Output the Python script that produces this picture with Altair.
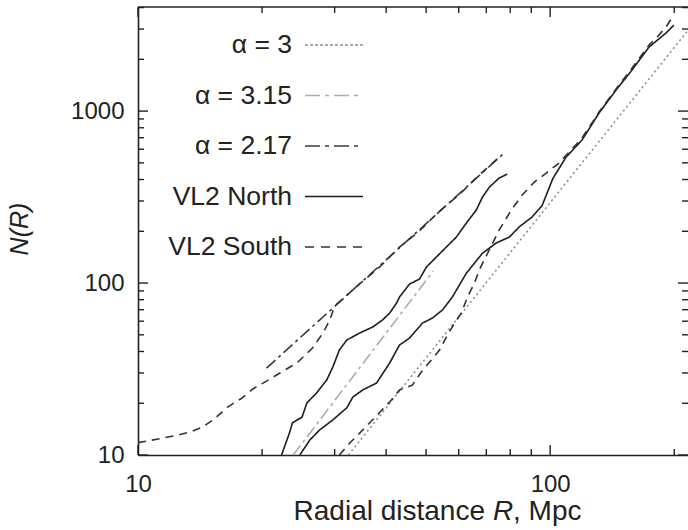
import altair as alt
import pandas as pd

# ---------------- data ----------------
series_names = ["α = 3", "α = 3.15", "α = 2.17", "VL2 North", "VL2 South"]

alpha3_R = [32.4, 216]
alpha3_N = [10, 2950]

alpha315_R = [23.8, 52.0]
alpha315_N = [10, 117]

alpha217_R = [20.5, 76.5]
alpha217_N = [32.0, 557]

northA_R = [22.3, 23.3, 23.7, 25.0, 25.7, 27.1, 28.7, 29.7, 30.8, 32.1, 34.5, 37.1, 39.2,
            40.8, 42.4, 43.1, 45.6, 48.2, 50.1, 53.0, 56.0, 59.2, 62.6, 66.2, 68.5, 71.2,
            75.2, 78.7]
northA_N = [10, 13.4, 15.4, 16.6, 20.1, 22.9, 27.3, 32.5, 40.8, 46.6, 51.2, 55.5, 61.0,
            66.9, 76.5, 82.9, 98.7, 105.5, 124, 142, 162, 185, 223, 266, 316, 361,
            408, 430]

northB_R = [24.7, 26.1, 27.6, 29.7, 32.1, 33.2, 35.1, 37.9, 40.8, 43.1, 45.6, 49.0, 51.8,
            54.8, 57.9, 62.6, 68.5, 74.0, 79.6, 84.1, 90.4, 95.6, 98.6, 101.5, 109.3,
            119.5, 131.4, 144.5, 157.9, 173.7, 190.9, 199.6]
northB_N = [10, 12.2, 14.0, 16.0, 18.8, 21.7, 23.9, 26.2, 34.3, 43.6, 47.9, 58.5, 62.6,
            69.7, 82.9, 114, 149, 171, 185, 212, 242, 282, 340, 405, 540,
            679, 974, 1325, 1731, 2356, 2841, 3162]

southA_R = [10.0, 11.2, 12.2, 13.4, 14.4, 15.4, 16.5, 17.9, 19.0, 20.5, 22.1, 24.3, 26.5,
            28.1, 29.2, 30.0, 34.5, 38.6, 43.1, 48.2, 53.9, 60.2, 67.3, 76.5]
southA_N = [11.8, 12.4, 12.9, 13.6, 14.6, 16.4, 19.0, 21.5, 24.2, 26.9, 30.0, 34.3, 41.9,
            51.2, 61.0, 73.5, 99, 124, 162, 201, 262, 327, 425, 560]

southB_R = [30.8, 32.6, 34.5, 36.5, 38.1, 41.2, 43.1, 46.3, 48.7, 51.5, 53.9, 56.0, 58.6,
            60.9, 63.0, 65.5, 67.3, 70.0, 75.2, 80.5, 85.5, 91.5, 97.8, 105.1, 119.5,
            131.4, 144.5, 157.9, 173.7, 183.6, 190.9, 197.4]
southB_N = [10, 11.7, 13.4, 15.4, 17.1, 20.9, 23.9, 25.5, 30.4, 35.7, 40.8, 48.5, 58.5,
            66.9, 82.9, 100, 119, 144, 203, 266, 325, 386, 436, 499, 697,
            987, 1343, 1778, 2419, 2766, 3078, 3473]

x_tick_labels = [10, 100]
y_tick_labels = [10, 100, 1000]
x_minor_ticks = [20, 30, 40, 50, 60, 70, 80, 90, 200]
y_minor_ticks = [20, 30, 40, 50, 60, 70, 80, 90, 200, 300, 400, 500, 600, 700, 800, 900,
                 2000, 3000, 4000]

# ---------------- styles ----------------
colors = ["#8f8f8f", "#ababab", "#3a3a3a", "#1e1e1e", "#333333"]
dashes = [[2, 3], [12, 4, 3, 4], [12, 4, 3, 4], [1, 0], [8, 6]]
legend_dashes = [[3, 2], [15, 5, 4, 5], [15, 5, 4, 5], [1, 0], [9, 7]]
FONT = "Liberation Sans"
W, H = 550, 448

curves = [
    (series_names[0], "a3", alpha3_R, alpha3_N),
    (series_names[1], "a315", alpha315_R, alpha315_N),
    (series_names[2], "a217", alpha217_R, alpha217_N),
    (series_names[3], "nA", northA_R, northA_N),
    (series_names[3], "nB", northB_R, northB_N),
    (series_names[4], "sA", southA_R, southA_N),
    (series_names[4], "sB", southB_R, southB_N),
]
rows = []
for name, seg, Rs, Ns in curves:
    for i, (r, n) in enumerate(zip(Rs, Ns)):
        rows.append({"series": name, "seg": seg, "i": i, "R": r, "N": n})
df = pd.DataFrame(rows)

xscale = alt.Scale(type="log", domain=[10, 216], nice=False)
yscale = alt.Scale(type="log", domain=[10, 4030], nice=False)

xaxis = alt.Axis(values=x_tick_labels, format="d", ticks=False, tickSize=0, grid=False,
                 labelFont=FONT, labelFontSize=24, labelColor="#222", labelPadding=17,
                 labelFlush=False, labelOverlap=False,
                 domainColor="#222", domainWidth=1.6, title=None)
yaxis = alt.Axis(values=y_tick_labels, format="d", ticks=False, tickSize=0, grid=False,
                 labelFont=FONT, labelFontSize=24, labelColor="#222", labelPadding=14,
                 labelFlush=False, labelOverlap=False,
                 domainColor="#222", domainWidth=1.6, title=None)

lines = alt.Chart(df).mark_line(strokeWidth=1.6, clip=True).encode(
    x=alt.X("R:Q", scale=xscale, axis=xaxis),
    y=alt.Y("N:Q", scale=yscale, axis=yaxis),
    color=alt.Color("series:N", scale=alt.Scale(domain=series_names, range=colors), legend=None),
    strokeDash=alt.StrokeDash("series:N", scale=alt.Scale(domain=series_names, range=dashes), legend=None),
    detail="seg:N",
    order="i:Q",
)

layers = [lines]

# inward ticks on all four sides
def xticks(vals, length):
    d = pd.DataFrame({"R": vals})
    bottom = alt.Chart(d).mark_rule(color="#222", strokeWidth=1.4).encode(
        x=alt.X("R:Q", scale=xscale, axis=xaxis), y=alt.value(H), y2=alt.value(H - length))
    top = alt.Chart(d).mark_rule(color="#222", strokeWidth=1.4).encode(
        x=alt.X("R:Q", scale=xscale, axis=xaxis), y=alt.value(0), y2=alt.value(length))
    return [bottom, top]

def yticks(vals, length):
    d = pd.DataFrame({"N": vals})
    left = alt.Chart(d).mark_rule(color="#222", strokeWidth=1.4).encode(
        y=alt.Y("N:Q", scale=yscale, axis=yaxis), x=alt.value(0), x2=alt.value(length))
    right = alt.Chart(d).mark_rule(color="#222", strokeWidth=1.4).encode(
        y=alt.Y("N:Q", scale=yscale, axis=yaxis), x=alt.value(W), x2=alt.value(W - length))
    return [left, right]

layers += xticks(x_tick_labels, 10) + xticks(x_minor_ticks, 6)
layers += yticks(y_tick_labels, 10) + yticks(y_minor_ticks, 6)

# top frame line
layers.append(alt.Chart(pd.DataFrame({"k": [0]})).mark_rule(color="#222", strokeWidth=1.6).encode(
    x=alt.value(0), x2=alt.value(W), y=alt.value(0)))

# legend inside the plot (labels left of samples)
for k, name in enumerate(series_names):
    yk = 38 + k * 50.5
    d = pd.DataFrame({"label": [name]})
    layers.append(alt.Chart(d).mark_text(align="right", baseline="middle", font=FONT,
                                         fontSize=26.5, color="#222").encode(
        x=alt.value(154), y=alt.value(yk), text="label:N"))
    layers.append(alt.Chart(d).mark_rule(color=colors[k], strokeWidth=1.6,
                                         strokeDash=legend_dashes[k]).encode(
        x=alt.value(167), x2=alt.value(225), y=alt.value(yk)))

# axis titles
t = pd.DataFrame({"a": ["Radial distance"], "b": ["R"], "c": [", Mpc"], "y": ["N(R)"]})
layers.append(alt.Chart(t).mark_text(align="right", baseline="alphabetic", font=FONT,
                                     fontSize=28, color="#222").encode(
    x=alt.value(347), y=alt.value(513), text="a:N"))
layers.append(alt.Chart(t).mark_text(align="left", baseline="alphabetic", font=FONT,
                                     fontSize=28, fontStyle="italic", color="#222").encode(
    x=alt.value(355), y=alt.value(513), text="b:N"))
layers.append(alt.Chart(t).mark_text(align="left", baseline="alphabetic", font=FONT,
                                     fontSize=28, color="#222").encode(
    x=alt.value(375), y=alt.value(513), text="c:N"))
layers.append(alt.Chart(t).mark_text(align="center", baseline="middle", font=FONT,
                                     fontSize=25, fontStyle="italic", angle=270, color="#222").encode(
    x=alt.value(-118), y=alt.value(222), text="y:N"))

chart = alt.layer(*layers).properties(
    width=W, height=H,
    padding={"left": 138, "top": 7, "right": 0, "bottom": 75},
    autosize=alt.AutoSizeParams(type="none"),
    background="white",
).configure_view(stroke=None)

chart.save("out.html", embed_options={"renderer": "svg", "actions": False})
